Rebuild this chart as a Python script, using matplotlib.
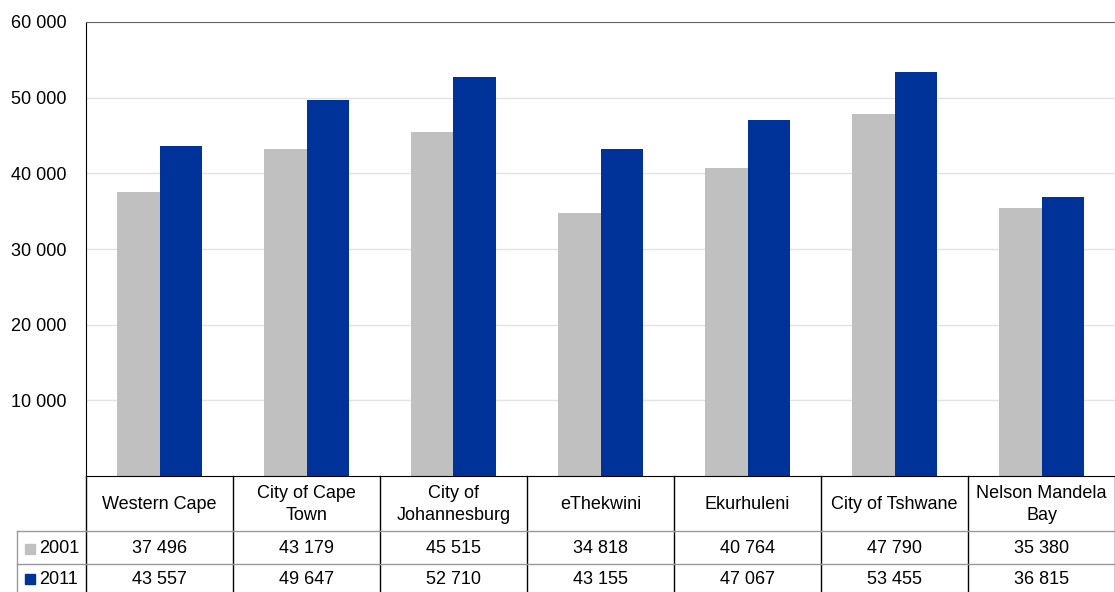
import matplotlib.pyplot as plt
from matplotlib.lines import Line2D
from matplotlib.patches import Rectangle

plt.rcParams['font.family'] = ['Liberation Sans', 'DejaVu Sans']
fs = 13

categories = ["Western Cape", "City of Cape\nTown", "City of\nJohannesburg",
              "eThekwini", "Ekurhuleni", "City of Tshwane", "Nelson Mandela\nBay"]
series_2001 = [37496, 43179, 45515, 34818, 40764, 47790, 35380]
series_2011 = [43557, 49647, 52710, 43155, 47067, 53455, 36815]
series_names = ["2001", "2011"]
yticks = [10000, 20000, 30000, 40000, 50000, 60000]

gray = "#c0c0c0"
blue = "#003399"


def fmt(v):
    return f"{v:,}".replace(",", " ")


W, H = 1115, 592
fig = plt.figure(figsize=(W / 100, H / 100), dpi=100)
ax_left, ax_top, ax_bottom = 86, 22, 476
ax = fig.add_axes([ax_left / W, (H - ax_bottom) / H, (W - ax_left) / W, (ax_bottom - ax_top) / H])

x = list(range(len(categories)))
bw = 0.286
ax.bar([i - bw / 2 for i in x], series_2001, width=bw, color=gray, zorder=2)
ax.bar([i + bw / 2 for i in x], series_2011, width=bw, color=blue, zorder=2)

ax.set_xlim(-0.5, len(categories) - 0.5)
ax.set_ylim(0, 60000)
ax.set_yticks(yticks)
ax.set_yticklabels([fmt(v) for v in yticks], fontsize=fs)
ax.tick_params(axis='y', length=0, pad=14)
ax.set_xticks([])
ax.grid(axis='y', color="#e3e3e3", linewidth=1, zorder=0)
ax.spines['left'].set_color('black')
ax.spines['bottom'].set_color('black')
ax.spines['top'].set_color('#666666')
ax.spines['right'].set_visible(False)


# data table under the plot, laid out in figure pixels
def fy(py):
    return (H - py) / H


def fx(px):
    return px / W


col_w = (W - ax_left) / len(categories)
row_top, row1, row2, row_bot = 476, 531, 564, 600
line_kw = dict(transform=fig.transFigure, clip_on=False)

# column separators
for k in range(len(categories) + 1):
    px = ax_left + k * col_w
    fig.add_artist(Line2D([fx(px), fx(px)], [fy(row_top), fy(row_bot)], color="black", lw=1, **line_kw))
# row separators and the outer edge of the legend column
for py in (row1, row2):
    fig.add_artist(Line2D([fx(17), fx(W)], [fy(py), fy(py)], color="#999999", lw=1, **line_kw))
fig.add_artist(Line2D([fx(17), fx(17)], [fy(row1), fy(row_bot)], color="#999999", lw=1, **line_kw))

for k, name in enumerate(categories):
    cx = ax_left + (k + 0.5) * col_w
    fig.text(fx(cx), fy((row_top + row1) / 2 + 1), name, ha='center', va='center',
             fontsize=fs, linespacing=1.45)
    for vals, (yt, yb) in ((series_2001, (row1, row2)), (series_2011, (row2, 592))):
        fig.text(fx(cx), fy((yt + yb) / 2 + 1), fmt(vals[k]),
                 ha='center', va='center', fontsize=fs)

for name, color, (yt, yb) in ((series_names[0], gray, (row1, row2)), (series_names[1], blue, (row2, 592))):
    cy = (yt + yb) / 2 + 1
    fig.add_artist(Rectangle((fx(25), fy(cy + 5)), 10 / W, 10 / H, color=color, **line_kw))
    fig.text(fx(39), fy(cy), name, ha='left', va='center', fontsize=fs)

fig.savefig("out.png", dpi=100)
